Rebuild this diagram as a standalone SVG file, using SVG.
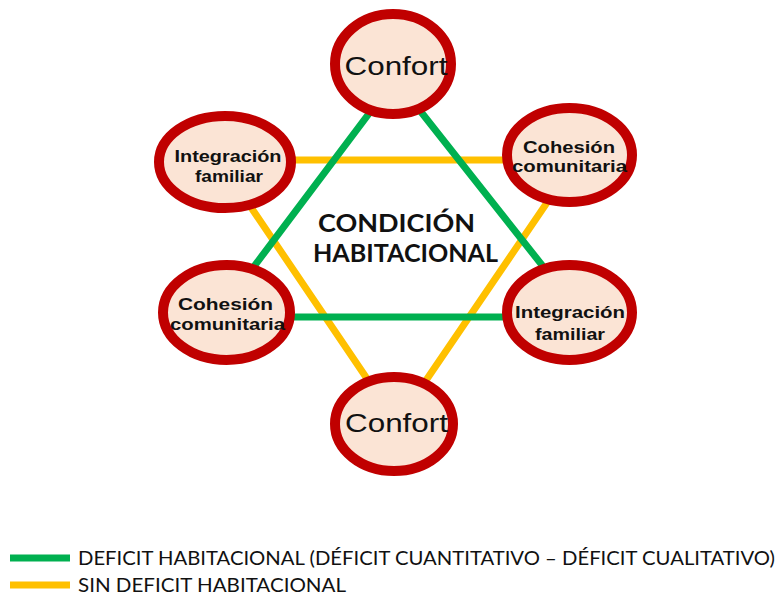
<svg xmlns="http://www.w3.org/2000/svg" width="781" height="602" viewBox="0 0 781 602">
<style>
.node{fill:#FBE4D5;stroke:#C00000;stroke-width:10}
.g{stroke:#00B050;stroke-width:7;fill:none}
.y{stroke:#FFC000;stroke-width:7;fill:none}
.big{font-family:"Liberation Sans",Arial,sans-serif;font-size:25px;fill:#111;text-anchor:middle}
.lbl{font-family:"Liberation Sans",Arial,sans-serif;font-size:16px;font-weight:bold;fill:#111;text-anchor:middle}
.center{font-family:Lato,"Open Sans",sans-serif;font-size:25px;font-weight:bold;fill:#111;text-anchor:middle}
.leg{font-family:Lato,"Open Sans",sans-serif;font-size:19px;fill:#111}
</style>
<rect width="781" height="602" fill="#fff"/>
<g id="connectors">
<polygon class="y" points="219,160 576,160 397,423"/>
<polygon class="g" points="395,79 583,317 216,317"/>
</g>
<g id="confort-top"><ellipse class="node" cx="393" cy="64" rx="58" ry="50"/><text class="big" x="396" y="75" textLength="103" lengthAdjust="spacingAndGlyphs">Confort</text></g>
<g id="integracion-top"><ellipse class="node" cx="225" cy="162" rx="66" ry="46"/><text class="lbl" x="228" y="162" textLength="107" lengthAdjust="spacingAndGlyphs">Integración</text><text class="lbl" x="229" y="182" textLength="68" lengthAdjust="spacingAndGlyphs">familiar</text></g>
<g id="cohesion-top"><ellipse class="node" cx="569.5" cy="155" rx="62.5" ry="47"/><text class="lbl" x="569" y="153" textLength="92" lengthAdjust="spacingAndGlyphs">Cohesión</text><text class="lbl" x="569.5" y="172" textLength="115" lengthAdjust="spacingAndGlyphs">comunitaria</text></g>
<g id="cohesion-bottom"><ellipse class="node" cx="226.5" cy="312.5" rx="63.5" ry="47.5"/><text class="lbl" x="225.5" y="310" textLength="95" lengthAdjust="spacingAndGlyphs">Cohesión</text><text class="lbl" x="227.5" y="330" textLength="115" lengthAdjust="spacingAndGlyphs">comunitaria</text></g>
<g id="integracion-bottom"><ellipse class="node" cx="569.5" cy="312.5" rx="62.5" ry="47.5"/><text class="lbl" x="570" y="318" textLength="110" lengthAdjust="spacingAndGlyphs">Integración</text><text class="lbl" x="570" y="340" textLength="70" lengthAdjust="spacingAndGlyphs">familiar</text></g>
<g id="confort-bottom"><ellipse class="node" cx="394" cy="424" rx="59" ry="47"/><text class="big" x="396.5" y="432" textLength="103" lengthAdjust="spacingAndGlyphs">Confort</text></g>
<g id="title"><text class="center" x="396.5" y="232" textLength="157" lengthAdjust="spacingAndGlyphs">CONDICIÓN</text><text class="center" x="405.5" y="262" textLength="185" lengthAdjust="spacingAndGlyphs">HABITACIONAL</text></g>
<g id="legend">
<line x1="10" y1="558" x2="70" y2="558" stroke="#00B050" stroke-width="7"/>
<line x1="10" y1="585" x2="70" y2="585" stroke="#FFC000" stroke-width="7"/>
<text class="leg" x="78" y="565" textLength="697" lengthAdjust="spacingAndGlyphs">DEFICIT HABITACIONAL (DÉFICIT CUANTITATIVO – DÉFICIT CUALITATIVO)</text>
<text class="leg" x="78" y="592" textLength="268" lengthAdjust="spacingAndGlyphs">SIN DEFICIT HABITACIONAL</text>
</g>
</svg>
